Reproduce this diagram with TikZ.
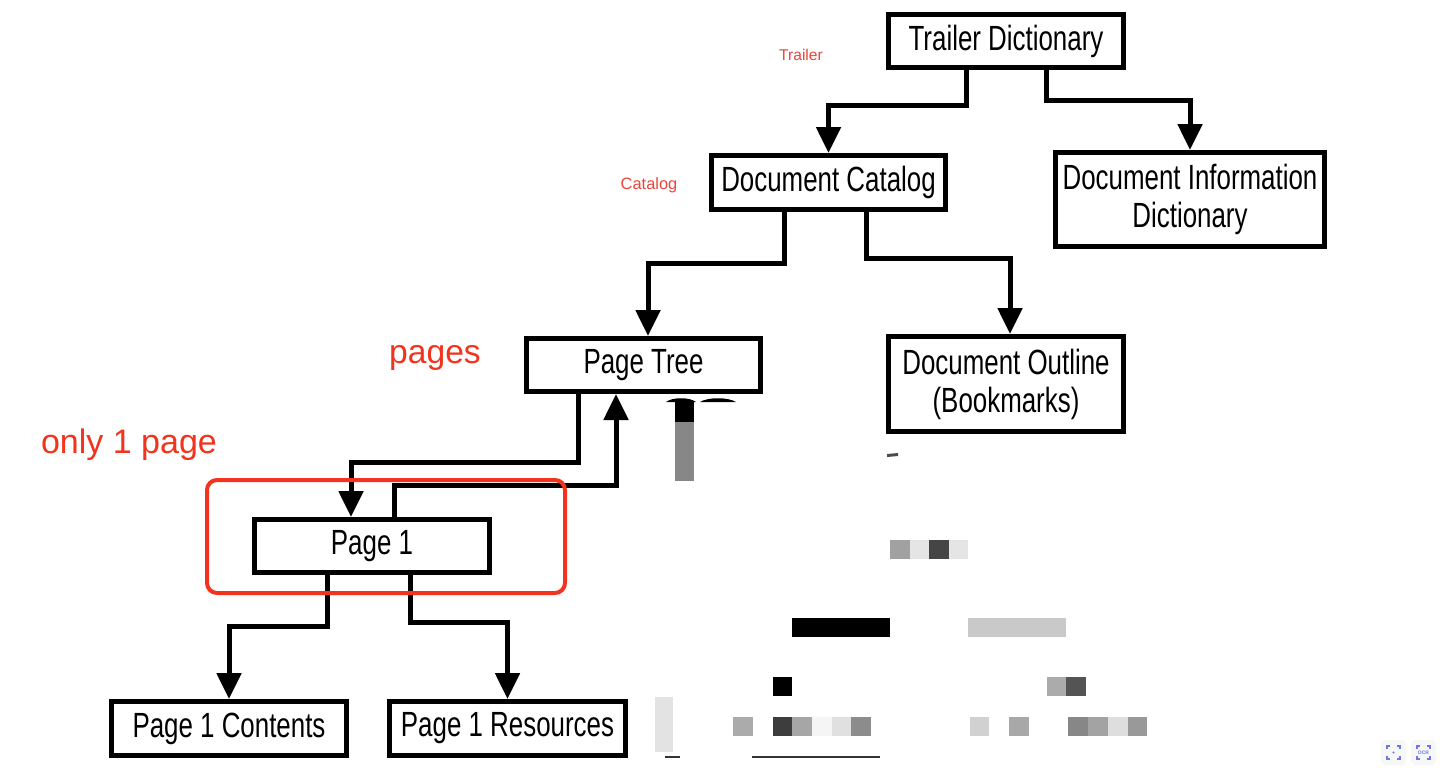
\documentclass[tikz,border=0pt]{standalone}
\usepackage{fontspec}
\setmainfont{Liberation Sans}
\newfontfamily\boxfont[FakeStretch=0.74]{Liberation Sans}
\usetikzlibrary{arrows.meta}
\definecolor{annred}{RGB}{242,52,30}
\definecolor{lblred}{RGB}{232,70,60}
\begin{document}
\begin{tikzpicture}[x=0.5pt,y=-0.5pt,
  box/.style={draw, line width=2.5pt, inner sep=0pt, align=center, font=\boxfont\fontsize{17.5}{19}\selectfont},
  arr/.style={line width=2.5pt, -{Triangle[width=12pt,length=13pt]}}]
\useasboundingbox (0,0) rectangle (1440,771);
\fill[white] (0,0) rectangle (1440,771);
% boxes
\node[box, minimum width=117.5pt, minimum height=26.5pt] (tr) at (1006,41) {Trailer Dictionary};
\node[box, minimum width=117pt, minimum height=27pt] (cat) at (828.5,182.5) {Document Catalog};
\node[box, minimum width=134.5pt, minimum height=47pt] (info) at (1190,199.5) {Document Information\\Dictionary};
\node[box, minimum width=117pt, minimum height=26.5pt] (pt) at (643.5,365) {Page Tree};
\node[box, minimum width=117.5pt, minimum height=47.5pt] (ol) at (1006,384) {Document Outline\\(Bookmarks)};
\node[box, minimum width=117.5pt, minimum height=26.5pt] (p1) at (372,546) {Page 1};
\node[box, minimum width=117.5pt, minimum height=27pt] (co) at (229,728.5) {Page 1 Contents};
\node[box, minimum width=118pt, minimum height=27pt] (re) at (507.5,728.5) {Page 1 Resources};
% connectors
\draw[arr] ([xshift=-20pt]tr.south) -- ++(0,35) -| (cat.north);
\draw[arr] ([xshift=20pt]tr.south) -- ++(0,30) -| (info.north);
\draw[arr] ([xshift=-22.25pt]cat.south) -- ++(0,51) -| ([xshift=2.25pt]pt.north);
\draw[arr] ([xshift=18.75pt]cat.south) -- ++(0,46) -| ([xshift=2pt]ol.north);
\draw[arr] ([xshift=-32.75pt]pt.south) -- ++(0,68) -| ([xshift=-10.5pt]p1.north);
\draw[arr] ([xshift=11pt]p1.north) -- ++(0,-32) -| ([xshift=-13.75pt]pt.south);
\draw[arr] ([xshift=-22.5pt]p1.south) -- ++(0,51) -| (co.north);
\draw[arr] ([xshift=19pt]p1.south) -- ++(0,47) -| (re.north);
% annotations
\node[text=lblred, font=\fontsize{7.8}{9}\selectfont] (lt) at (801,55) {Trailer};
\node[text=lblred, font=\fontsize{8.2}{10}\selectfont] (lc) at (649,185) {Catalog};
\node[text=annred, font=\fontsize{16.8}{20}\selectfont] (lp) at (435,358) {pages};
\node[text=annred, font=\fontsize{17}{20}\selectfont] (lo) at (129,445) {only 1 page};
\draw[annred, line width=2pt, rounded corners=5pt] (207,480) rectangle (565,593);
% pixelated (obscured) region
\fill[black] (666,402) .. controls (672,397) and (690,397) .. (696,402) -- cycle;
\fill[black] (700,402) .. controls (708,397) and (728,397) .. (736,402) -- cycle;
\fill[black] (675,402) rectangle (694,422);
\fill[black!47] (675,422) rectangle (694,481);
\fill[black!70] (887,454) -- (898,453) -- (898,456) -- (887,457) -- cycle;
\fill[black!37] (890,540) rectangle (910,559);
\fill[black!10] (910,540) rectangle (929,559);
\fill[black!73] (929,540) rectangle (949,559);
\fill[black!10] (949,540) rectangle (968,559);
\fill[black] (792,618) rectangle (890,637);
\fill[black!21] (968,618) rectangle (1066,637);
\fill[black] (773,677) rectangle (792,696);
\fill[black!33] (1047,677) rectangle (1066,696);
\fill[black!67] (1066,677) rectangle (1086,696);
\fill[black!11] (655,697) rectangle (673,752);
\fill[black!33] (733,717) rectangle (753,736);
\fill[black!76] (773,717) rectangle (792,736);
\fill[black!35] (792,717) rectangle (812,736);
\fill[black!4] (812,717) rectangle (832,736);
\fill[black!12] (832,717) rectangle (851,736);
\fill[black!45] (851,717) rectangle (871,736);
\fill[black!18] (970,717) rectangle (989,736);
\fill[black!34] (1009,717) rectangle (1029,736);
\fill[black!47] (1068,717) rectangle (1088,736);
\fill[black!36] (1088,717) rectangle (1108,736);
\fill[black!13] (1108,717) rectangle (1128,736);
\fill[black!40] (1128,717) rectangle (1147,736);
\draw[black!80, line width=0.8pt] (665,757) -- (680,757);
\draw[black!80, line width=0.8pt] (752,757) -- (880,757);
% small overlay icons
\definecolor{iconblue}{RGB}{110,120,230}
\fill[black!3, rounded corners=2pt] (1381,740) rectangle (1406,765);
\fill[black!3, rounded corners=2pt] (1411,740) rectangle (1436,765);
\draw[iconblue, line width=0.6pt] (1387,749) -- (1387,746) -- (1390,746) (1397,746) -- (1400,746) -- (1400,749) (1400,756) -- (1400,759) -- (1397,759) (1390,759) -- (1387,759) -- (1387,756);
\fill[iconblue] (1393.5,752.5) circle (1.2);
\draw[iconblue, line width=0.6pt] (1417,749) -- (1417,746) -- (1420,746) (1427,746) -- (1430,746) -- (1430,749) (1430,756) -- (1430,759) -- (1427,759) (1420,759) -- (1417,759) -- (1417,756);
\node[text=iconblue, font=\fontsize{2.5}{3}\selectfont\bfseries, inner sep=0pt] (ocr) at (1423.5,752.5) {OCR};
\end{tikzpicture}
\end{document}
